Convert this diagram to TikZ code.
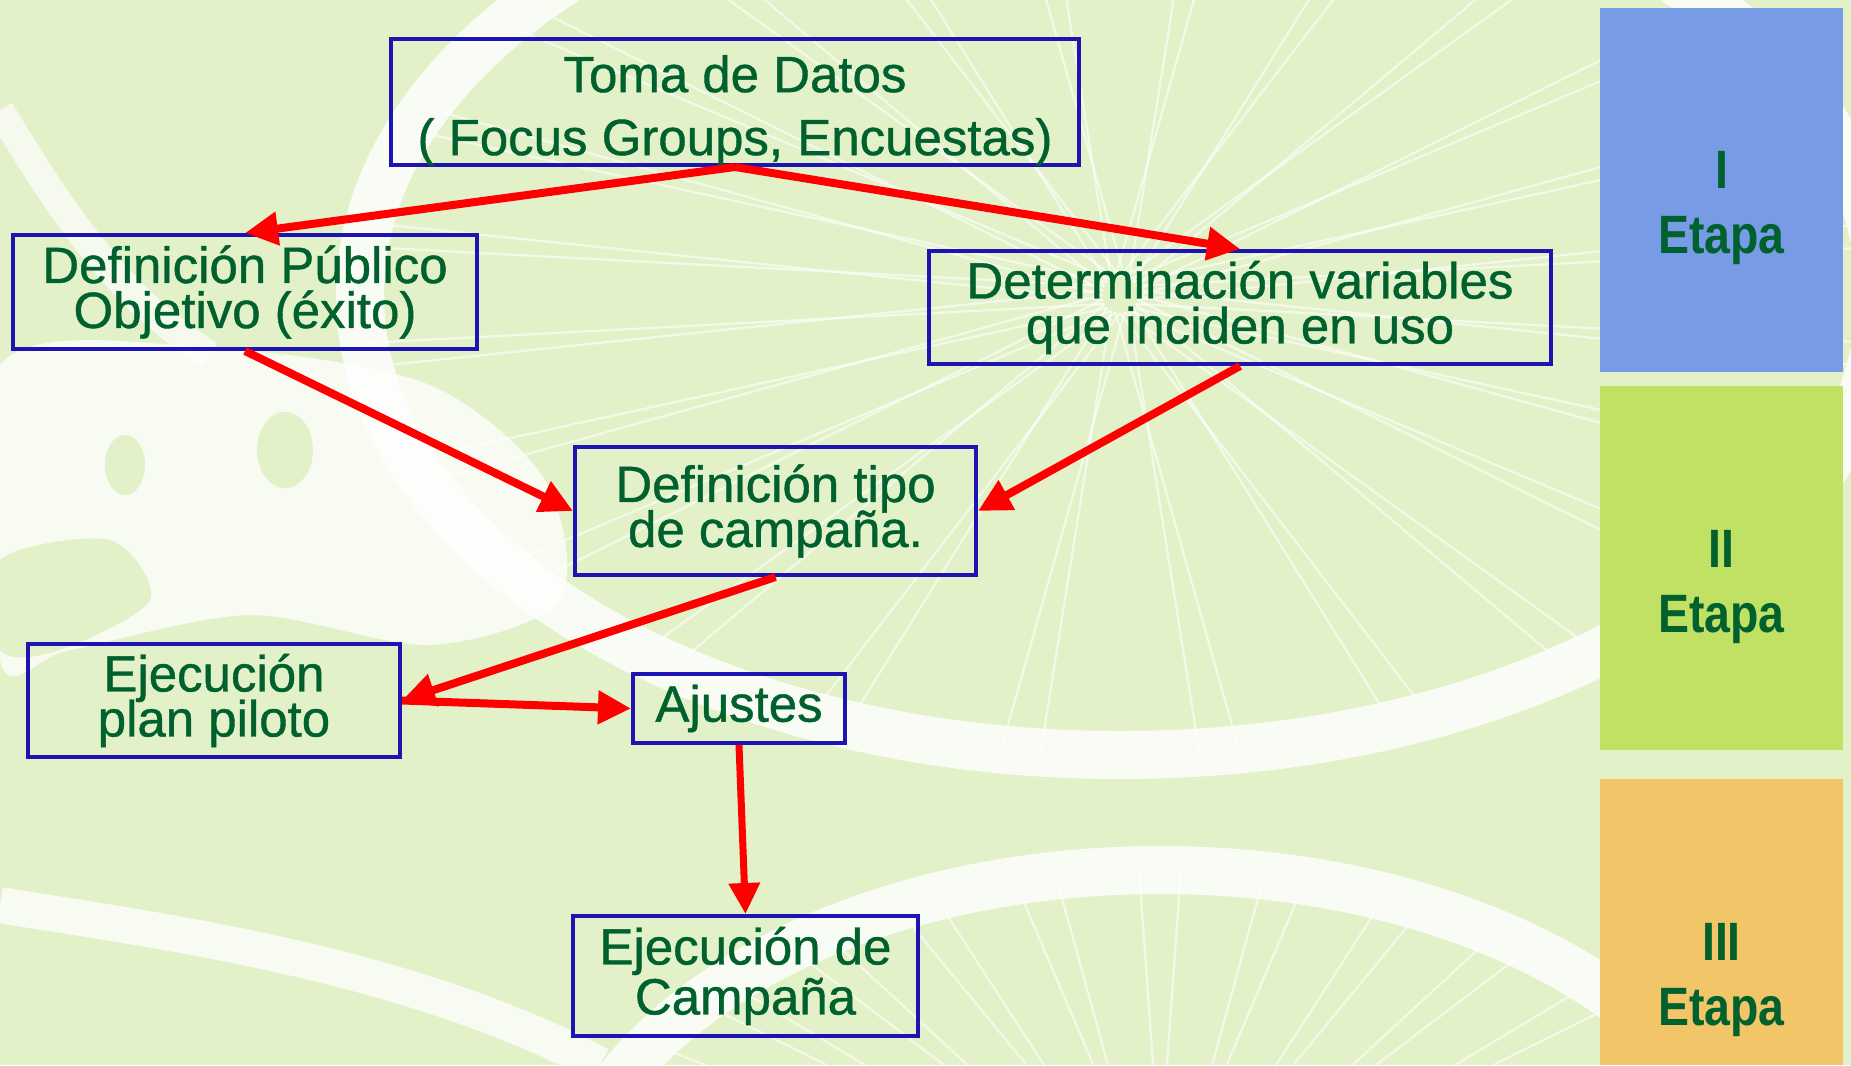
\documentclass[tikz,border=0pt]{standalone}
\usepackage{fontspec}
\setmainfont{Liberation Sans}
\newfontfamily\boxfont[FakeBold=0.8]{Liberation Sans}
\newfontfamily\etapafont[FakeStretch=0.86]{Liberation Sans}
\usetikzlibrary{arrows.meta}
\definecolor{bgpale}{RGB}{227,241,201}
\definecolor{boxblue}{RGB}{30,20,180}
\definecolor{txtgreen}{RGB}{0,96,46}
\definecolor{arrred}{RGB}{255,0,0}
\definecolor{panelblue}{RGB}{120,155,230}
\definecolor{panelgreen}{RGB}{192,225,100}
\definecolor{panelorange}{RGB}{242,198,104}
\tikzset{
  stepbox/.style={draw=boxblue, line width=2pt, align=center, text=txtgreen, inner sep=0pt,
    font={\boxfont\fontsize{25.5pt}{22.5pt}\selectfont\lineskiplimit=-30pt}},
  panelbox/.style={draw=none, inner sep=0pt, minimum width=121.5pt},
  etapalabel/.style={align=center, text=txtgreen, inner sep=0pt,
    font={\etapafont\bfseries\fontsize{27pt}{32.5pt}\selectfont\lineskiplimit=-30pt}},
  flow/.style={draw=arrred, line width=4pt, -{Triangle[length=16.5pt,width=16pt]}},
  flowthin/.style={draw=arrred, line width=3.5pt, -{Triangle[length=15.5pt,width=15pt]}},
  tire/.style={draw=white, line width=24pt, opacity=0.8},
  spoke/.style={draw=white, line width=1.1pt, opacity=0.6}
}
\begin{document}
\begin{tikzpicture}[x=0.5pt,y=-0.5pt]
\useasboundingbox (0,0) rectangle (1851,1065);
% ---------- background ----------
\fill[bgpale] (0,0) rectangle (1851,1065);
% whitish area on the left
\fill[white, opacity=0.75] plot[smooth cycle] coordinates {(0,365) (230,350) (430,385) (545,480) (560,600) (430,645) (250,615) (70,650) (0,660)};
\fill[bgpale] (285,450) ellipse [x radius=28, y radius=38];
\fill[bgpale] (125,465) ellipse [x radius=20, y radius=30];
\fill[bgpale] plot[smooth cycle] coordinates {(0,560) (110,540) (150,600) (60,650) (0,650)};
% top-left band
\draw[white, line width=14pt, opacity=0.7] (0,110) .. controls (60,210) and (120,300) .. (210,355);
% wheel A (upper right)
\foreach \a in {0,15,...,345} {
  \draw[spoke] ({1120+18*cos(\a)},{295+18*sin(\a)}) -- ({1120+760*cos(\a+24)},{295+460*sin(\a+24)});
  \draw[spoke] ({1120+18*cos(\a)},{295+18*sin(\a)}) -- ({1120+760*cos(\a-24)},{295+460*sin(\a-24)});
}
\draw[tire] (1120,295) ellipse [x radius=760, y radius=460];
% wheel B (bottom)
\foreach \a in {180,192,...,360} {
  \draw[spoke] ({1160+15*cos(\a)},{1240+15*sin(\a)}) -- ({1160+600*cos(\a+20)},{1240+370*sin(\a+20)});
  \draw[spoke] ({1160+15*cos(\a)},{1240+15*sin(\a)}) -- ({1160+600*cos(\a-20)},{1240+370*sin(\a-20)});
}
\draw[tire] (1160,1240) ellipse [x radius=600, y radius=370];
% bottom-left band
\draw[white, line width=18pt, opacity=0.75] (0,905) .. controls (150,930) and (400,960) .. (600,1065);
% ---------- stage panels ----------
\node[panelbox, fill=panelblue, minimum height=182pt] (p1) at (1721.5,190) {};
\node[panelbox, fill=panelgreen, minimum height=182pt] (p2) at (1721.5,568) {};
\node[panelbox, fill=panelorange, minimum height=143pt] (p3) at (1721.5,922) {};
\node[etapalabel] (e1) at (1721.5,208) {I\\Etapa};
\node[etapalabel] (e2) at (1721.5,587) {II\\Etapa};
\node[etapalabel] (e3) at (1721.5,980) {III\\Etapa};
% ---------- boxes ----------
\node[stepbox, align=none, minimum width=344pt, minimum height=63pt,
  font={\boxfont\fontsize{25.5pt}{31.5pt}\selectfont}] (toma) at (735,102)
  {\raisebox{-4.5pt}[\height][\depth]{\begin{tabular}{@{}c@{}}Toma de Datos\\( Focus Groups, Encuestas)\end{tabular}}};
\node[stepbox, minimum width=232pt, minimum height=57pt] (pub) at (245,292)
  {Definición Público\\Objetivo (éxito)};
\node[stepbox, minimum width=311pt, minimum height=56.5pt] (var) at (1240,307.5)
  {Determinación variables\\que inciden en uso};
\node[stepbox, minimum width=200.5pt, minimum height=64pt] (tipo) at (775.5,511)
  {Definición tipo\\de campaña.};
\node[stepbox, minimum width=186pt, minimum height=56.5pt] (piloto) at (214,700.5)
  {Ejecución\\plan piloto};
\node[stepbox, minimum width=106pt, minimum height=34.5pt] (ajustes) at (739,708.5)
  {Ajustes};
\node[stepbox, minimum width=172.5pt, minimum height=60pt,
  font={\boxfont\fontsize{25.5pt}{25pt}\selectfont\lineskiplimit=-30pt}] (campana) at (745.5,976)
  {Ejecución de\\Campaña};
% ---------- connectors ----------
\draw[flow] (toma.south) -- (pub.north);
\draw[flow] (toma.south) -- (var.north);
\draw[flow] (pub.south) -- (tipo.west);
\draw[flow] (var.south) -- (tipo.east);
\draw[flow] (tipo.south) -- (piloto.east);
\draw[flow] (piloto.east) -- (ajustes.west);
\draw[flowthin] (ajustes.south) -- (campana.north);
\end{tikzpicture}
\end{document}
